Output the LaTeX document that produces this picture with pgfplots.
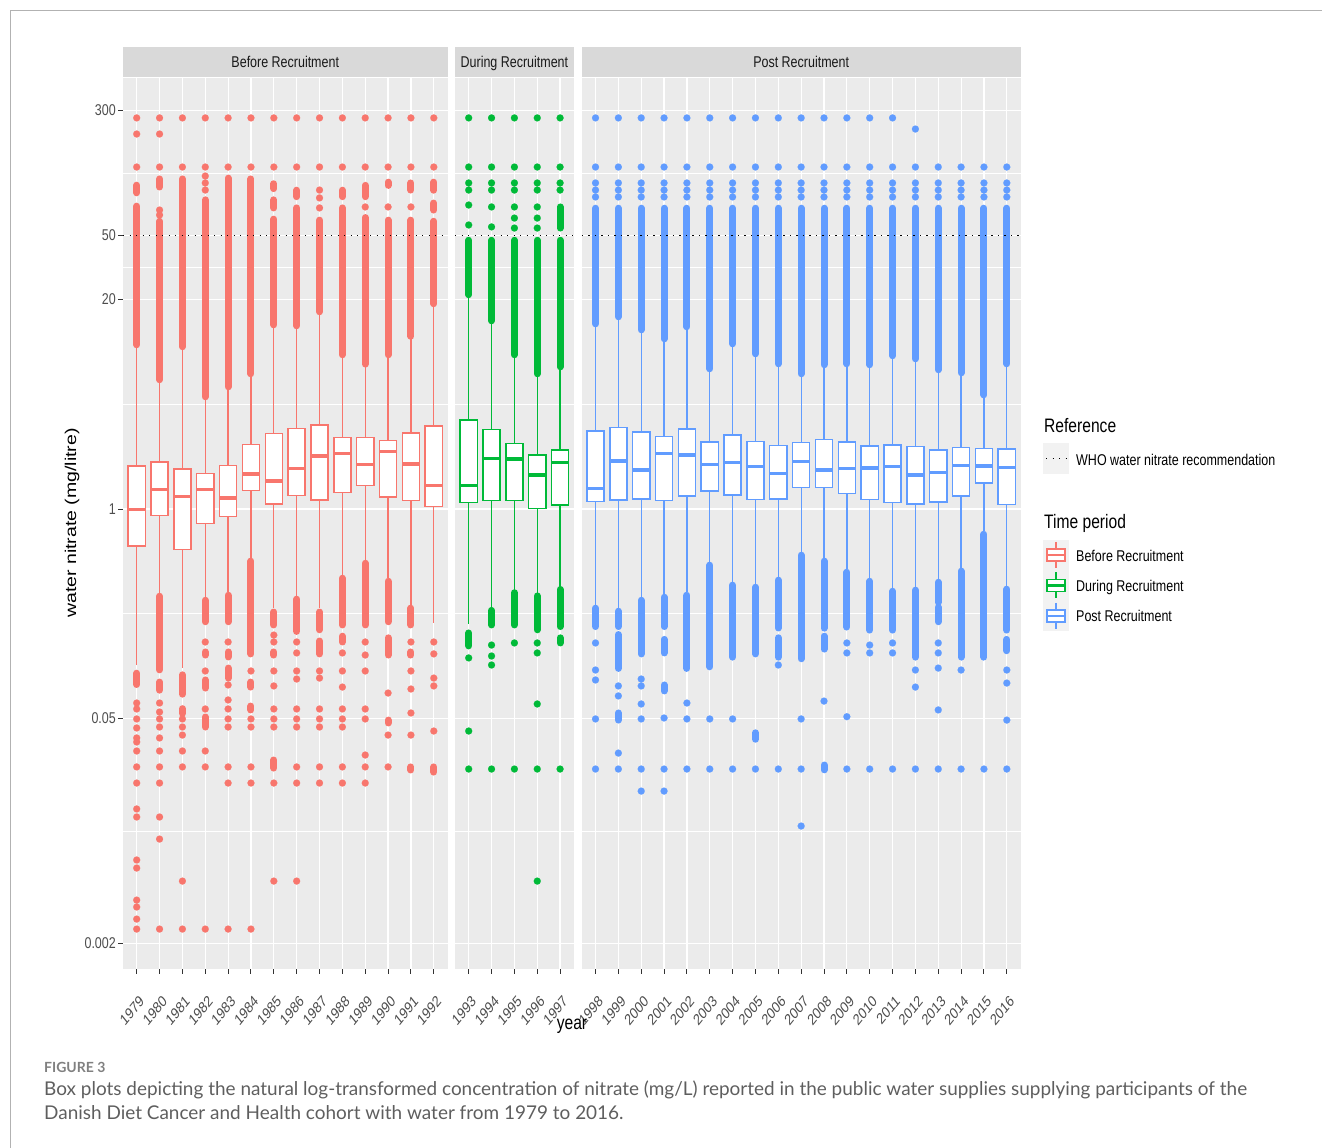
\documentclass[border=0pt]{standalone}
\usepackage{fontspec}
\setmainfont{Liberation Sans}
\newfontfamily\sq[FakeStretch=0.8]{Liberation Sans}
\newfontfamily\capfont{Lato}
\usepackage{pgfplots}
\pgfplotsset{compat=1.18}
\definecolor{cB}{HTML}{F8766D}
\definecolor{cD}{HTML}{00BA38}
\definecolor{cP}{HTML}{619CFF}
\definecolor{panelbg}{HTML}{EBEBEB}
\definecolor{stripbg}{HTML}{D9D9D9}
\definecolor{ticktext}{HTML}{4D4D4D}
\definecolor{tickline}{HTML}{333333}
\definecolor{keybg}{HTML}{F2F2F2}
\definecolor{captxt}{HTML}{5E5E5E}
\pgfplotsset{
 facet/.style={
  scale only axis, height=891pt,
  ymin=-2.857, ymax=2.677,
  axis background/.style={fill=panelbg},
  axis line style={draw=none},
  ytick={-2.699,-1.301,0,1.301,1.699,2.477},
  minor ytick={-2,-0.6505,0.6505,1.5,2.088},
  xmajorgrids, ymajorgrids, yminorgrids,
  major grid style={white, line width=1.2pt},
  minor grid style={white, line width=0.6pt},
  tick align=outside, major tick length=5pt, minor tick length=0pt,
  xtick pos=left, ytick pos=left,
  every tick/.style={tickline, line width=1pt},
  xticklabel style={font=\fontsize{15.6}{16}\selectfont, text=ticktext, inner sep=0pt, anchor=north east, yshift=-20pt, xshift=2pt, xscale=0.8, rotate=45},
  yticklabel style={font=\sq\fontsize{15.6}{16}\selectfont, text=ticktext, inner sep=2pt},
 },
 dots/.style={color=#1, only marks, mark=*, mark size=3.5pt, mark options={solid, draw=#1, fill=#1, line width=0.1pt}},
 streak/.style={color=#1, line width=7pt, line cap=round, unbounded coords=jump, mark=none},
 whisk/.style={color=#1, line width=1.3pt, unbounded coords=jump, mark=none},
 boxr/.style={draw=#1, fill=white, line width=1.5pt, mark=none},
 med/.style={color=#1, line width=3.2pt, unbounded coords=jump, mark=none},
 refl/.style={black, line width=1.2pt, dash pattern=on 1.3pt off 5.2pt},
}
\tikzset{refline/.style={black, line width=1.2pt, dash pattern=on 1.3pt off 5.2pt}}
\begin{document}
\begin{tikzpicture}
\useasboundingbox (0pt,0pt) rectangle (1322pt,1148pt);
\draw[color=black!30, line width=0.8pt] (10pt,0pt) -- (10pt,1138pt) -- (1322pt,1138pt);

% ---------------- Before recruitment (x = year - 1979) ----------------
\begin{axis}[facet, at={(123pt,179pt)}, anchor=south west, width=324.5pt,
  xmin=-0.6, xmax=13.6,
  xtick={0,1,2,3,4,5,6,7,8,9,10,11,12,13},
  xticklabels={1979,1980,1981,1982,1983,1984,1985,1986,1987,1988,1989,1990,1991,1992},
  yticklabels={0.002,0.05,1,20,50,300}]
\addplot[streak=cB, x filter/.expression={x-1979}] coordinates {
(1979,2.011)(1979,1.964)(1979,nan)(1979,1.881)(1979,1.020)(1979,nan)(1979,-1.02)(1979,-1.09)(1979,nan)
(1980,2.050)(1980,2.000)(1980,nan)(1980,1.787)(1980,0.803)(1980,nan)(1980,-0.542)(1980,-0.999)(1980,nan)(1980,-1.075)(1980,-1.125)(1980,nan)
(1981,2.05)(1981,1.008)(1981,nan)(1981,-1.03)(1981,-1.15)(1981,nan)(1981,-1.24)(1981,-1.27)(1981,nan)
(1982,1.92)(1982,0.697)(1982,nan)(1982,-0.567)(1982,-0.70)(1982,nan)(1982,-0.888)(1982,-0.907)(1982,nan)(1982,-1.062)(1982,-1.112)(1982,nan)(1982,-1.292)(1982,-1.354)(1982,nan)
(1983,2.055)(1983,0.759)(1983,nan)(1983,-0.536)(1983,-0.70)(1983,nan)(1983,-0.888)(1983,-0.919)(1983,nan)(1983,-0.988)(1983,-1.050)(1983,nan)
(1984,2.05)(1984,0.84)(1984,nan)(1984,-0.324)(1984,-0.90)(1984,nan)(1984,-1.075)(1984,-1.106)(1984,nan)(1984,-1.224)(1984,-1.248)(1984,nan)
(1985,2.02)(1985,1.99)(1985,nan)(1985,1.92)(1985,1.87)(1985,nan)(1985,1.80)(1985,1.144)(1985,nan)(1985,-0.64)(1985,-0.72)(1985,nan)(1985,-0.888)(1985,-0.907)(1985,nan)(1985,-1.559)(1985,-1.609)(1985,nan)
(1986,1.98)(1986,1.94)(1986,nan)(1986,1.87)(1986,1.138)(1986,nan)(1986,-0.56)(1986,-0.76)(1986,nan)
(1987,1.794)(1987,1.225)(1987,nan)(1987,-0.64)(1987,-0.75)(1987,nan)(1987,-0.82)(1987,-0.90)(1987,nan)
(1988,1.98)(1988,1.94)(1988,nan)(1988,1.87)(1988,0.958)(1988,nan)(1988,-0.43)(1988,-0.72)(1988,nan)(1988,-0.79)(1988,-0.826)(1988,nan)
(1989,2.01)(1989,1.94)(1989,nan)(1989,1.81)(1989,0.90)(1989,nan)(1989,-0.337)(1989,-0.72)(1989,nan)
(1990,2.03)(1990,2.01)(1990,nan)(1990,1.794)(1990,0.958)(1990,nan)(1990,-0.449)(1990,-0.70)(1990,nan)(1990,-0.80)(1990,-0.907)(1990,nan)(1990,-1.311)(1990,-1.329)(1990,nan)
(1991,2.025)(1991,1.981)(1991,nan)(1991,1.794)(1991,1.073)(1991,nan)(1991,-0.616)(1991,-0.72)(1991,nan)(1991,-0.888)(1991,-0.907)(1991,nan)(1991,-1.602)(1991,-1.621)(1991,nan)
(1992,2.03)(1992,1.98)(1992,nan)(1992,1.90)(1992,1.857)(1992,nan)(1992,1.787)(1992,1.275)(1992,nan)(1992,-1.602)(1992,-1.634)
};
\addplot[dots=cB, x filter/.expression={x-1979}] coordinates {
(1979,2.429)(1979,2.329)(1979,2.124)
(1979,-1.205)(1979,-1.242)(1979,-1.304)(1979,-1.360)(1979,-1.422)(1979,-1.447)(1979,-1.503)(1979,-1.602)(1979,-1.702)(1979,-1.863)(1979,-1.913)(1979,-2.180)(1979,-2.230)(1979,-2.429)(1979,-2.472)(1979,-2.547)(1979,-2.609)
(1980,2.429)(1980,2.329)(1980,2.124)(1980,1.857)(1980,1.826)
(1980,-1.205)(1980,-1.261)(1980,-1.304)(1980,-1.354)(1980,-1.422)(1980,-1.503)(1980,-1.602)(1980,-1.702)(1980,-1.913)(1980,-2.050)(1980,-2.609)
(1981,2.429)(1981,2.124)
(1981,-1.304)(1981,-1.354)(1981,-1.404)(1981,-1.503)(1981,-1.602)(1981,-2.311)(1981,-2.609)
(1982,2.429)(1982,2.124)(1982,2.068)(1982,2.025)(1982,1.981)
(1982,-0.826)(1982,-1.006)(1982,-1.242)(1982,-1.503)(1982,-1.602)(1982,-2.609)
(1983,2.429)(1983,2.124)
(1983,-0.826)(1983,-1.093)(1983,-1.186)(1983,-1.242)(1983,-1.304)(1983,-1.354)(1983,-1.602)(1983,-1.702)(1983,-2.609)
(1984,2.429)(1984,2.124)
(1984,-1.006)(1984,-1.304)(1984,-1.354)(1984,-1.602)(1984,-1.702)(1984,-2.609)
(1985,2.429)(1985,2.124)
(1985,-0.783)(1985,-0.826)(1985,-1.006)(1985,-1.099)(1985,-1.242)(1985,-1.304)(1985,-1.354)(1985,-1.702)(1985,-2.311)
(1986,2.429)(1986,2.124)
(1986,-0.826)(1986,-0.894)(1986,-1.006)(1986,-1.056)(1986,-1.242)(1986,-1.304)(1986,-1.354)(1986,-1.602)(1986,-1.702)(1986,-2.311)
(1987,2.429)(1987,2.124)(1987,1.981)(1987,1.932)(1987,1.870)
(1987,-1.006)(1987,-1.050)(1987,-1.242)(1987,-1.304)(1987,-1.354)(1987,-1.602)(1987,-1.702)
(1988,2.429)(1988,2.124)
(1988,-0.894)(1988,-1.006)(1988,-1.106)(1988,-1.242)(1988,-1.304)(1988,-1.354)(1988,-1.602)(1988,-1.702)
(1989,2.429)(1989,2.124)(1989,1.876)
(1989,-0.826)(1989,-0.907)(1989,-1.006)(1989,-1.242)(1989,-1.304)(1989,-1.528)(1989,-1.602)(1989,-1.702)
(1990,2.429)(1990,2.124)(1990,1.876)
(1990,-1.143)(1990,-1.404)(1990,-1.602)
(1991,2.429)(1991,2.124)(1991,1.876)
(1991,-0.826)(1991,-1.006)(1991,-1.118)(1991,-1.267)(1991,-1.404)
(1992,2.429)(1992,2.124)
(1992,-0.826)(1992,-0.900)(1992,-1.050)(1992,-1.099)(1992,-1.379)
};
% whiskers: (i, lower whisker)-(i, Q1) and (i, Q3)-(i, upper whisker)
\addplot[whisk=cB] coordinates {
(0,-0.969)(0,-0.230)(0,nan)(0,0.267)(0,1.000)(0,nan)
(1,-0.522)(1,-0.039)(1,nan)(1,0.292)(1,0.783)(1,nan)
(2,-0.988)(2,-0.250)(2,nan)(2,0.247)(2,0.988)(2,nan)
(3,-0.547)(3,-0.089)(3,nan)(3,0.222)(3,0.677)(3,nan)
(4,-0.516)(4,-0.048)(4,nan)(4,0.271)(4,0.739)(4,nan)
(5,-0.304)(5,0.114)(5,nan)(5,0.402)(5,0.820)(5,nan)
(6,-0.615)(6,0.031)(6,nan)(6,0.470)(6,1.124)(6,nan)
(7,-0.547)(7,0.085)(7,nan)(7,0.501)(7,1.118)(7,nan)
(8,-0.615)(8,0.056)(8,nan)(8,0.522)(8,1.205)(8,nan)
(9,-0.410)(9,0.104)(9,nan)(9,0.443)(9,0.938)(9,nan)
(10,-0.317)(10,0.145)(10,nan)(10,0.443)(10,0.882)(10,nan)
(11,-0.429)(11,0.076)(11,nan)(11,0.427)(11,0.938)(11,nan)
(12,-0.596)(12,0.052)(12,nan)(12,0.472)(12,1.093)(12,nan)
(13,-0.708)(13,0.014)(13,nan)(13,0.514)(13,1.255)
};
% boxes Q1..Q3, width 0.75
\addplot[boxr=cB] coordinates {(-0.375,-0.230)(0.375,-0.230)(0.375,0.267)(-0.375,0.267)} --cycle;
\addplot[boxr=cB] coordinates {(0.625,-0.039)(1.375,-0.039)(1.375,0.292)(0.625,0.292)} --cycle;
\addplot[boxr=cB] coordinates {(1.625,-0.250)(2.375,-0.250)(2.375,0.247)(1.625,0.247)} --cycle;
\addplot[boxr=cB] coordinates {(2.625,-0.089)(3.375,-0.089)(3.375,0.222)(2.625,0.222)} --cycle;
\addplot[boxr=cB] coordinates {(3.625,-0.048)(4.375,-0.048)(4.375,0.271)(3.625,0.271)} --cycle;
\addplot[boxr=cB] coordinates {(4.625,0.114)(5.375,0.114)(5.375,0.402)(4.625,0.402)} --cycle;
\addplot[boxr=cB] coordinates {(5.625,0.031)(6.375,0.031)(6.375,0.470)(5.625,0.470)} --cycle;
\addplot[boxr=cB] coordinates {(6.625,0.085)(7.375,0.085)(7.375,0.501)(6.625,0.501)} --cycle;
\addplot[boxr=cB] coordinates {(7.625,0.056)(8.375,0.056)(8.375,0.522)(7.625,0.522)} --cycle;
\addplot[boxr=cB] coordinates {(8.625,0.104)(9.375,0.104)(9.375,0.443)(8.625,0.443)} --cycle;
\addplot[boxr=cB] coordinates {(9.625,0.145)(10.375,0.145)(10.375,0.443)(9.625,0.443)} --cycle;
\addplot[boxr=cB] coordinates {(10.625,0.076)(11.375,0.076)(11.375,0.427)(10.625,0.427)} --cycle;
\addplot[boxr=cB] coordinates {(11.625,0.052)(12.375,0.052)(12.375,0.472)(11.625,0.472)} --cycle;
\addplot[boxr=cB] coordinates {(12.625,0.014)(13.375,0.014)(13.375,0.514)(12.625,0.514)} --cycle;
% medians
\addplot[med=cB] coordinates {
(-0.375,-0.002)(0.375,-0.002)(0,nan)(0.625,0.122)(1.375,0.122)(1,nan)(1.625,0.076)(2.375,0.076)(2,nan)
(2.625,0.122)(3.375,0.122)(3,nan)(3.625,0.068)(4.375,0.068)(4,nan)(4.625,0.217)(5.375,0.217)(5,nan)
(5.625,0.174)(6.375,0.174)(6,nan)(6.625,0.250)(7.375,0.250)(7,nan)(7.625,0.329)(8.375,0.329)(8,nan)
(8.625,0.346)(9.375,0.346)(9,nan)(9.625,0.275)(10.375,0.275)(10,nan)(10.625,0.356)(11.375,0.356)(11,nan)
(11.625,0.280)(12.375,0.280)(12,nan)(12.625,0.147)(13.375,0.147)
};
\addplot[refl] coordinates {(-0.6,1.699) (13.6,1.699)};
\end{axis}

% ---------------- During recruitment (x = year - 1993) ----------------
\begin{axis}[facet, at={(455pt,179pt)}, anchor=south west, width=118.8pt,
  xmin=-0.6, xmax=4.6,
  xtick={0,1,2,3,4},
  xticklabels={1993,1994,1995,1996,1997},
  yticklabels={}, ytick style={draw=none}]
\addplot[streak=cD, x filter/.expression={x-1993}] coordinates {
(1993,1.669)(1993,1.331)(1993,nan)(1993,-0.77)(1993,-0.85)(1993,nan)
(1994,1.669)(1994,1.169)(1994,nan)(1994,-0.63)(1994,-0.72)(1994,nan)
(1995,1.669)(1995,0.958)(1995,nan)(1995,-0.52)(1995,-0.72)(1995,nan)
(1996,1.669)(1996,0.840)(1996,nan)(1996,-0.54)(1996,-0.75)(1996,nan)
(1997,1.876)(1997,1.745)(1997,nan)(1997,1.669)(1997,0.883)(1997,nan)(1997,-0.50)(1997,-0.73)(1997,nan)(1997,-0.80)(1997,-0.832)
};
\addplot[dots=cD, x filter/.expression={x-1993}] coordinates {
(1993,2.429)(1993,2.124)(1993,2.025)(1993,1.981)(1993,1.888)(1993,1.764)(1993,-0.925)(1993,-1.379)(1993,-1.615)
(1994,2.429)(1994,2.124)(1994,2.025)(1994,1.981)(1994,1.876)(1994,1.752)(1994,-0.845)(1994,-0.913)(1994,-0.969)(1994,-1.615)
(1995,2.429)(1995,2.124)(1995,2.025)(1995,1.981)(1995,1.876)(1995,1.807)(1995,1.745)(1995,-0.832)(1995,-1.615)
(1996,2.429)(1996,2.124)(1996,2.025)(1996,1.981)(1996,1.876)(1996,1.807)(1996,1.745)(1996,-0.832)(1996,-0.894)(1996,-1.211)(1996,-1.615)(1996,-2.311)
(1997,2.429)(1997,2.124)(1997,2.025)(1997,1.981)(1997,-1.615)
};
\addplot[whisk=cD] coordinates {
(0,-0.714)(0,0.039)(0,nan)(0,0.553)(0,1.311)(0,nan)
(1,-0.609)(1,0.052)(1,nan)(1,0.495)(1,1.149)(1,nan)
(2,-0.503)(2,0.052)(2,nan)(2,0.408)(2,0.938)(2,nan)
(3,-0.522)(3,0.004)(3,nan)(3,0.335)(3,0.820)(3,nan)
(4,-0.484)(4,0.025)(4,nan)(4,0.366)(4,0.863)
};
\addplot[boxr=cD] coordinates {(-0.375,0.039)(0.375,0.039)(0.375,0.553)(-0.375,0.553)} --cycle;
\addplot[boxr=cD] coordinates {(0.625,0.052)(1.375,0.052)(1.375,0.495)(0.625,0.495)} --cycle;
\addplot[boxr=cD] coordinates {(1.625,0.052)(2.375,0.052)(2.375,0.408)(1.625,0.408)} --cycle;
\addplot[boxr=cD] coordinates {(2.625,0.004)(3.375,0.004)(3.375,0.335)(2.625,0.335)} --cycle;
\addplot[boxr=cD] coordinates {(3.625,0.025)(4.375,0.025)(4.375,0.366)(3.625,0.366)} --cycle;
\addplot[med=cD] coordinates {
(-0.375,0.145)(0.375,0.145)(0,nan)(0.625,0.315)(1.375,0.315)(1,nan)(1.625,0.311)(2.375,0.311)(2,nan)
(2.625,0.211)(3.375,0.211)(3,nan)(3.625,0.288)(4.375,0.288)
};
\addplot[refl] coordinates {(-0.6,1.699) (4.6,1.699)};
\end{axis}

% ---------------- Post recruitment (x = year - 1998) ----------------
\begin{axis}[facet, at={(581.8pt,179pt)}, anchor=south west, width=438.7pt,
  xmin=-0.6, xmax=18.6,
  xtick={0,1,2,3,4,5,6,7,8,9,10,11,12,13,14,15,16,17,18},
  xticklabels={1998,1999,2000,2001,2002,2003,2004,2005,2006,2007,2008,2009,2010,2011,2012,2013,2014,2015,2016},
  yticklabels={}, ytick style={draw=none}]
\addplot[streak=cP, x filter/.expression={x-1998}] coordinates {
(1998,1.868)(1998,1.15)(1998,nan)(1998,-0.616)(1998,-0.73)(1998,nan)
(1999,1.868)(1999,1.194)(1999,nan)(1999,-0.635)(1999,-0.73)(1999,nan)(1999,-0.78)(1999,-0.99)(1999,nan)(1999,-1.267)(1999,-1.311)(1999,nan)
(2000,1.868)(2000,1.113)(2000,nan)(2000,-0.567)(2000,-0.90)(2000,nan)
(2001,1.868)(2001,1.057)(2001,nan)(2001,-0.548)(2001,-0.73)(2001,nan)(2001,-0.81)(2001,-0.894)(2001,nan)(2001,-1.093)(2001,-1.13)(2001,nan)
(2002,1.868)(2002,1.132)(2002,nan)(2002,-0.536)(2002,-0.99)(2002,nan)
(2003,1.868)(2003,0.871)(2003,nan)(2003,-0.349)(2003,-0.98)(2003,nan)
(2004,1.868)(2004,1.026)(2004,nan)(2004,-0.473)(2004,-0.92)(2004,nan)
(2005,1.868)(2005,0.964)(2005,nan)(2005,-0.486)(2005,-0.90)(2005,nan)(2005,-1.39)(2005,-1.43)(2005,nan)
(2006,1.868)(2006,0.902)(2006,nan)(2006,-0.442)(2006,-0.739)(2006,nan)(2006,-0.80)(2006,-0.92)(2006,nan)
(2007,1.868)(2007,0.84)(2007,nan)(2007,-0.287)(2007,-0.93)(2007,nan)
(2008,1.868)(2008,0.896)(2008,nan)(2008,-0.324)(2008,-0.74)(2008,nan)(2008,-0.79)(2008,-0.87)(2008,nan)(2008,-1.59)(2008,-1.62)(2008,nan)
(2009,1.868)(2009,0.902)(2009,nan)(2009,-0.393)(2009,-0.733)(2009,nan)
(2010,1.868)(2010,0.896)(2010,nan)(2010,-0.449)(2010,-0.752)(2010,nan)
(2011,1.868)(2011,0.952)(2011,nan)(2011,-0.511)(2011,-0.752)(2011,nan)
(2012,1.868)(2012,0.933)(2012,nan)(2012,-0.504)(2012,-0.92)(2012,nan)
(2013,1.868)(2013,0.865)(2013,nan)(2013,-0.455)(2013,-0.58)(2013,nan)(2013,-0.61)(2013,-0.70)(2013,nan)
(2014,1.868)(2014,0.846)(2014,nan)(2014,-0.386)(2014,-0.92)(2014,nan)
(2015,1.868)(2015,0.709)(2015,nan)(2015,-0.157)(2015,-0.92)(2015,nan)
(2016,1.868)(2016,0.902)(2016,nan)(2016,-0.498)(2016,-0.752)(2016,nan)(2016,-0.81)(2016,-0.88)
};
\addplot[dots=cP, x filter/.expression={x-1998}] coordinates {
(1998,2.429)(1999,2.429)(2000,2.429)(2001,2.429)(2002,2.429)(2003,2.429)(2004,2.429)(2005,2.429)(2006,2.429)(2007,2.429)(2008,2.429)(2009,2.429)(2010,2.429)(2011,2.429)(2012,2.360)
(1998,2.124)(1999,2.124)(2000,2.124)(2001,2.124)(2002,2.124)(2003,2.124)(2004,2.124)(2005,2.124)(2006,2.124)(2007,2.124)(2008,2.124)(2009,2.124)(2010,2.124)(2011,2.124)(2012,2.124)(2013,2.124)(2014,2.124)(2015,2.124)(2016,2.124)
(1998,2.025)(1999,2.025)(2000,2.025)(2001,2.025)(2002,2.025)(2003,2.025)(2004,2.025)(2005,2.025)(2006,2.025)(2007,2.025)(2008,2.025)(2009,2.025)(2010,2.025)(2011,2.025)(2012,2.025)(2013,2.025)(2014,2.025)(2015,2.025)(2016,2.025)
(1998,1.981)(1999,1.981)(2000,1.981)(2001,1.981)(2002,1.981)(2003,1.981)(2004,1.981)(2005,1.981)(2006,1.981)(2007,1.981)(2008,1.981)(2009,1.981)(2010,1.981)(2011,1.981)(2012,1.981)(2013,1.981)(2014,1.981)(2015,1.981)(2016,1.981)
(1998,1.938)(1999,1.938)(2000,1.938)(2001,1.938)(2002,1.938)(2003,1.938)(2004,1.938)(2005,1.938)(2006,1.938)(2007,1.938)(2008,1.938)(2009,1.938)(2010,1.938)(2011,1.938)(2012,1.938)(2013,1.938)(2014,1.938)(2015,1.938)(2016,1.938)
(1998,-1.615)(1999,-1.615)(2000,-1.615)(2001,-1.615)(2002,-1.615)(2003,-1.615)(2004,-1.615)(2005,-1.615)(2006,-1.615)(2007,-1.615)(2009,-1.615)(2010,-1.615)(2011,-1.615)(2012,-1.615)(2013,-1.615)(2014,-1.615)(2015,-1.615)(2016,-1.615)
(1998,-0.832)(1998,-1.000)(1998,-1.062)(1998,-1.304)
(1999,-1.099)(1999,-1.161)(1999,-1.516)
(2000,-1.056)(2000,-1.099)(2000,-1.211)(2000,-1.304)(2000,-1.752)
(2001,-1.298)(2001,-1.752)
(2002,-1.205)(2002,-1.304)
(2003,-1.304)(2004,-1.304)
(2006,-0.969)
(2007,-1.304)(2007,-1.969)
(2008,-1.193)
(2009,-0.832)(2009,-0.894)(2009,-1.290)
(2010,-0.845)(2010,-0.894)
(2011,-0.832)(2011,-0.894)
(2012,-1.000)(2012,-1.106)
(2013,-0.832)(2013,-0.894)(2013,-0.988)(2013,-1.248)
(2014,-1.000)
(2016,-1.000)(2016,-1.081)(2016,-1.311)
};
\addplot[whisk=cP] coordinates {
(0,-0.596)(0,0.048)(0,nan)(0,0.486)(0,1.130)(0,nan)
(1,-0.615)(1,0.056)(1,nan)(1,0.507)(1,1.174)(1,nan)
(2,-0.547)(2,0.062)(2,nan)(2,0.478)(2,1.093)(2,nan)
(3,-0.528)(3,0.052)(3,nan)(3,0.449)(3,1.037)(3,nan)
(4,-0.516)(4,0.081)(4,nan)(4,0.497)(4,1.112)(4,nan)
(5,-0.329)(5,0.112)(5,nan)(5,0.416)(5,0.851)(5,nan)
(6,-0.453)(6,0.087)(6,nan)(6,0.460)(6,1.006)(6,nan)
(7,-0.466)(7,0.060)(7,nan)(7,0.418)(7,0.944)(7,nan)
(8,-0.422)(8,0.062)(8,nan)(8,0.393)(8,0.882)(8,nan)
(9,-0.267)(9,0.132)(9,nan)(9,0.412)(9,0.820)(9,nan)
(10,-0.304)(10,0.132)(10,nan)(10,0.433)(10,0.876)(10,nan)
(11,-0.373)(11,0.095)(11,nan)(11,0.416)(11,0.882)(11,nan)
(12,-0.429)(12,0.060)(12,nan)(12,0.391)(12,0.876)(12,nan)
(13,-0.491)(13,0.039)(13,nan)(13,0.398)(13,0.932)(13,nan)
(14,-0.484)(14,0.031)(14,nan)(14,0.387)(14,0.913)(14,nan)
(15,-0.435)(15,0.043)(15,nan)(15,0.366)(15,0.845)(15,nan)
(16,-0.366)(16,0.081)(16,nan)(16,0.381)(16,0.826)(16,nan)
(17,-0.137)(17,0.163)(17,nan)(17,0.375)(17,0.689)(17,nan)
(18,-0.478)(18,0.027)(18,nan)(18,0.373)(18,0.882)
};
\addplot[boxr=cP] coordinates {(-0.375,0.048)(0.375,0.048)(0.375,0.486)(-0.375,0.486)} --cycle;
\addplot[boxr=cP] coordinates {(0.625,0.056)(1.375,0.056)(1.375,0.507)(0.625,0.507)} --cycle;
\addplot[boxr=cP] coordinates {(1.625,0.062)(2.375,0.062)(2.375,0.478)(1.625,0.478)} --cycle;
\addplot[boxr=cP] coordinates {(2.625,0.052)(3.375,0.052)(3.375,0.449)(2.625,0.449)} --cycle;
\addplot[boxr=cP] coordinates {(3.625,0.081)(4.375,0.081)(4.375,0.497)(3.625,0.497)} --cycle;
\addplot[boxr=cP] coordinates {(4.625,0.112)(5.375,0.112)(5.375,0.416)(4.625,0.416)} --cycle;
\addplot[boxr=cP] coordinates {(5.625,0.087)(6.375,0.087)(6.375,0.460)(5.625,0.460)} --cycle;
\addplot[boxr=cP] coordinates {(6.625,0.060)(7.375,0.060)(7.375,0.418)(6.625,0.418)} --cycle;
\addplot[boxr=cP] coordinates {(7.625,0.062)(8.375,0.062)(8.375,0.393)(7.625,0.393)} --cycle;
\addplot[boxr=cP] coordinates {(8.625,0.132)(9.375,0.132)(9.375,0.412)(8.625,0.412)} --cycle;
\addplot[boxr=cP] coordinates {(9.625,0.132)(10.375,0.132)(10.375,0.433)(9.625,0.433)} --cycle;
\addplot[boxr=cP] coordinates {(10.625,0.095)(11.375,0.095)(11.375,0.416)(10.625,0.416)} --cycle;
\addplot[boxr=cP] coordinates {(11.625,0.060)(12.375,0.060)(12.375,0.391)(11.625,0.391)} --cycle;
\addplot[boxr=cP] coordinates {(12.625,0.039)(13.375,0.039)(13.375,0.398)(12.625,0.398)} --cycle;
\addplot[boxr=cP] coordinates {(13.625,0.031)(14.375,0.031)(14.375,0.387)(13.625,0.387)} --cycle;
\addplot[boxr=cP] coordinates {(14.625,0.043)(15.375,0.043)(15.375,0.366)(14.625,0.366)} --cycle;
\addplot[boxr=cP] coordinates {(15.625,0.081)(16.375,0.081)(16.375,0.381)(15.625,0.381)} --cycle;
\addplot[boxr=cP] coordinates {(16.625,0.163)(17.375,0.163)(17.375,0.375)(16.625,0.375)} --cycle;
\addplot[boxr=cP] coordinates {(17.625,0.027)(18.375,0.027)(18.375,0.373)(17.625,0.373)} --cycle;
\addplot[med=cP] coordinates {
(-0.375,0.126)(0.375,0.126)(0,nan)(0.625,0.298)(1.375,0.298)(1,nan)(1.625,0.242)(2.375,0.242)(2,nan)
(2.625,0.346)(3.375,0.346)(3,nan)(3.625,0.335)(4.375,0.335)(4,nan)(4.625,0.278)(5.375,0.278)(5,nan)
(5.625,0.288)(6.375,0.288)(6,nan)(6.625,0.263)(7.375,0.263)(7,nan)(7.625,0.219)(8.375,0.219)(8,nan)
(8.625,0.296)(9.375,0.296)(9,nan)(9.625,0.242)(10.375,0.242)(10,nan)(10.625,0.253)(11.375,0.253)(11,nan)
(11.625,0.255)(12.375,0.255)(12,nan)(12.625,0.265)(13.375,0.265)(13,nan)(13.625,0.211)(14.375,0.211)(14,nan)
(14.625,0.225)(15.375,0.225)(15,nan)(15.625,0.269)(16.375,0.269)(16,nan)(16.625,0.267)(17.375,0.267)(17,nan)
(17.625,0.257)(18.375,0.257)
};
\addplot[refl] coordinates {(-0.6,1.699) (18.6,1.699)};
\end{axis}

% strips
\fill[stripbg] (123pt,1071pt) rectangle (447.5pt,1101pt);
\fill[stripbg] (455pt,1071pt) rectangle (573.8pt,1101pt);
\fill[stripbg] (581.8pt,1071pt) rectangle (1020.5pt,1101pt);
\begin{scope}[every node/.style={font=\sq\fontsize{15.6}{16}\selectfont, text=black!90, anchor=base, inner sep=0pt}]
\node at (285.25pt,1080.5pt) {Before Recruitment};
\node at (514.4pt,1080.5pt) {During Recruitment};
\node at (801.15pt,1080.5pt) {Post Recruitment};
\end{scope}
% axis titles
\node[font=\fontsize{19.5}{20}\selectfont, xscale=0.8, rotate=90] at (72pt,625pt) {water nitrate (mg/litre)};
\node[font=\sq\fontsize{19.5}{20}\selectfont, anchor=base, inner sep=0pt] at (572pt,118pt) {year};
% legend
\node[anchor=base west, font=\sq\fontsize{19.5}{20}\selectfont, inner sep=0pt] at (1044pt,715pt) {Reference};
\fill[keybg] (1043pt,674pt) rectangle (1069pt,705pt);
\draw[refline] (1046pt,689.5pt) -- (1067pt,689.5pt);
\node[anchor=base west, font=\sq\fontsize{15.6}{16}\selectfont, inner sep=0pt] at (1076pt,682pt) {WHO water nitrate recommendation};
\node[anchor=base west, font=\sq\fontsize{19.5}{20}\selectfont, inner sep=0pt] at (1044pt,619pt) {Time period};
\fill[keybg] (1043pt,517pt) rectangle (1069pt,608pt);
\foreach \c/\yc/\yb/\lab in {cB/593/586/Before Recruitment, cD/562.5/556/During Recruitment, cP/532/526/Post Recruitment}{
  \draw[\c, line width=1.3pt] (1056pt,\yc pt+13pt) -- (1056pt,\yc pt-13pt);
  \draw[\c, line width=1.4pt, fill=white] (1047pt,\yc pt-6pt) rectangle (1065pt,\yc pt+6pt);
  \draw[\c, line width=2.2pt] (1047pt,\yc pt) -- (1065pt,\yc pt);
  \node[anchor=base west, font=\sq\fontsize{15.6}{16}\selectfont, inner sep=0pt] at (1076pt,\yb pt) {\lab};
}
% caption
\node[anchor=base west, inner sep=0pt, font=\capfont\bfseries\fontsize{14}{14}\selectfont, text=black!50] at (44pt,75pt) {FIGURE 3};
\node[anchor=base west, inner sep=0pt, font=\capfont\fontsize{18.95}{19}\selectfont, text=captxt] at (44pt,52pt) {Box plots depicting the natural log-transformed concentration of nitrate (mg/L) reported in the public water supplies supplying participants of the};
\node[anchor=base west, inner sep=0pt, font=\capfont\fontsize{18.95}{19}\selectfont, text=captxt] at (44pt,28pt) {Danish Diet Cancer and Health cohort with water from 1979 to 2016.};
\end{tikzpicture}
\end{document}
